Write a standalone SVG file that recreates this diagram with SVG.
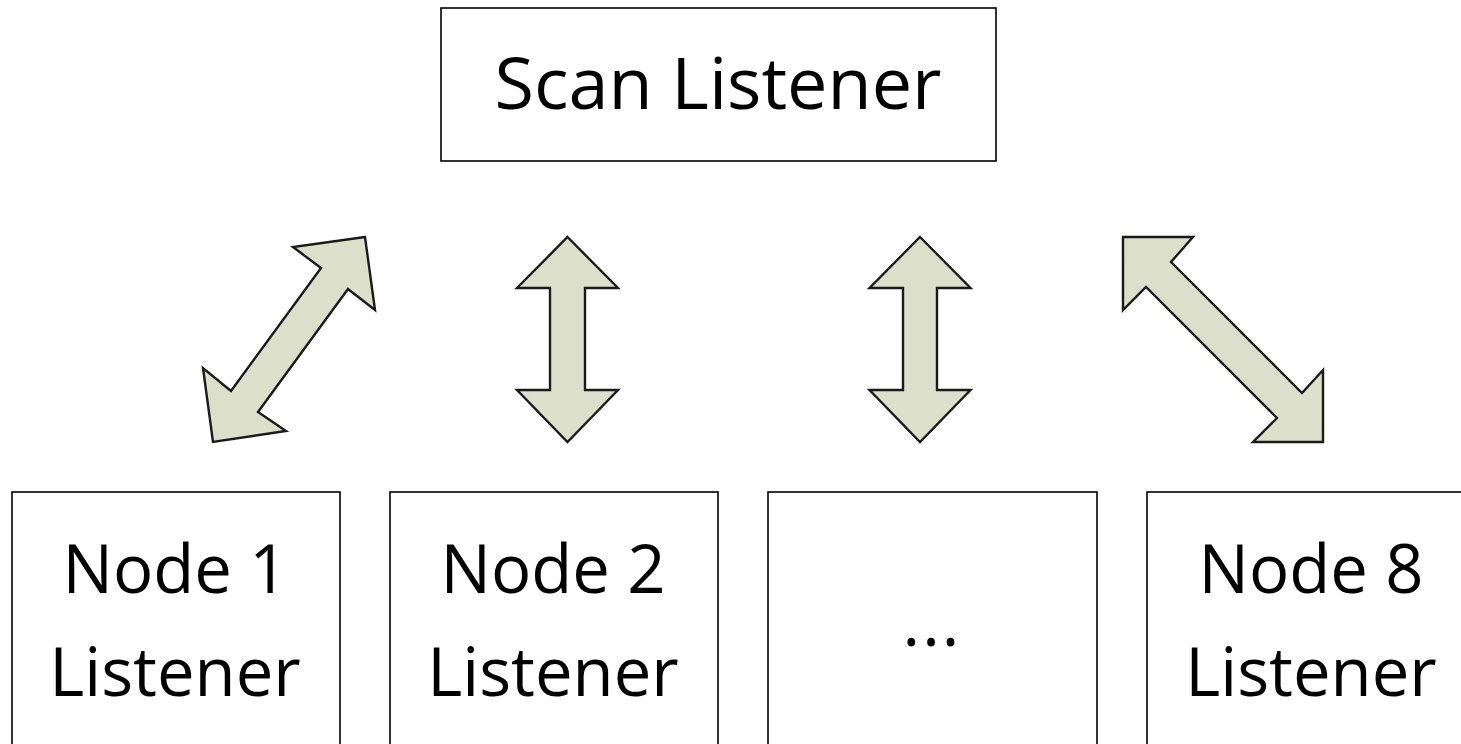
<svg xmlns="http://www.w3.org/2000/svg" width="1461" height="744" viewBox="0 0 1461 744">
<style>
.box{fill:#ffffff;stroke:#000000;stroke-width:1.6}
.lbl{font-family:"Open Sans","Liberation Sans",sans-serif;fill:#000000;text-anchor:middle}
.arr{fill:#dcdfc9;stroke:#1a1a1a;stroke-width:2.4;stroke-linejoin:miter}
</style>
<rect width="1461" height="744" fill="#ffffff"/>
<g id="scan-listener">
<rect class="box" x="441" y="8" width="555" height="153"/>
<text class="lbl" x="718" y="109" font-size="72">Scan Listener</text>
</g>
<g id="node1">
<rect class="box" x="12" y="492" width="328" height="270"/>
<text class="lbl" x="175" y="593" font-size="67">Node 1</text>
<text class="lbl" x="175" y="696" font-size="67">Listener</text>
</g>
<g id="node2">
<rect class="box" x="390" y="492" width="328" height="270"/>
<text class="lbl" x="553" y="593" font-size="67">Node 2</text>
<text class="lbl" x="553" y="696" font-size="67">Listener</text>
</g>
<g id="node-more">
<rect class="box" x="768" y="492" width="329" height="270"/>
<text class="lbl" x="932" y="646" font-size="67" letter-spacing="2">...</text>
</g>
<g id="node8">
<rect class="box" x="1147" y="492" width="330" height="270"/>
<text class="lbl" x="1311" y="593" font-size="67">Node 8</text>
<text class="lbl" x="1311" y="696" font-size="67">Listener</text>
</g>
<g id="connectors">
<polygon class="arr" points="365,237 293,247 321,268 231,391 203,368 213,442 286,431 258,412 348,289 375,310"/>
<polygon class="arr" points="567.5,237 618,288 585,288 585,390 618,390 567.5,442 517,390 550,390 550,288 517,288"/>
<polygon class="arr" points="920,237 970.5,288 937,288 937,390 970.5,390 920,442 869.5,390 903,390 903,288 869.5,288"/>
<polygon class="arr" points="1123,237 1193,237 1171,262 1302,393 1323,370 1323,442 1253,442 1277,418 1146,287 1123,310"/>
</g>
</svg>
